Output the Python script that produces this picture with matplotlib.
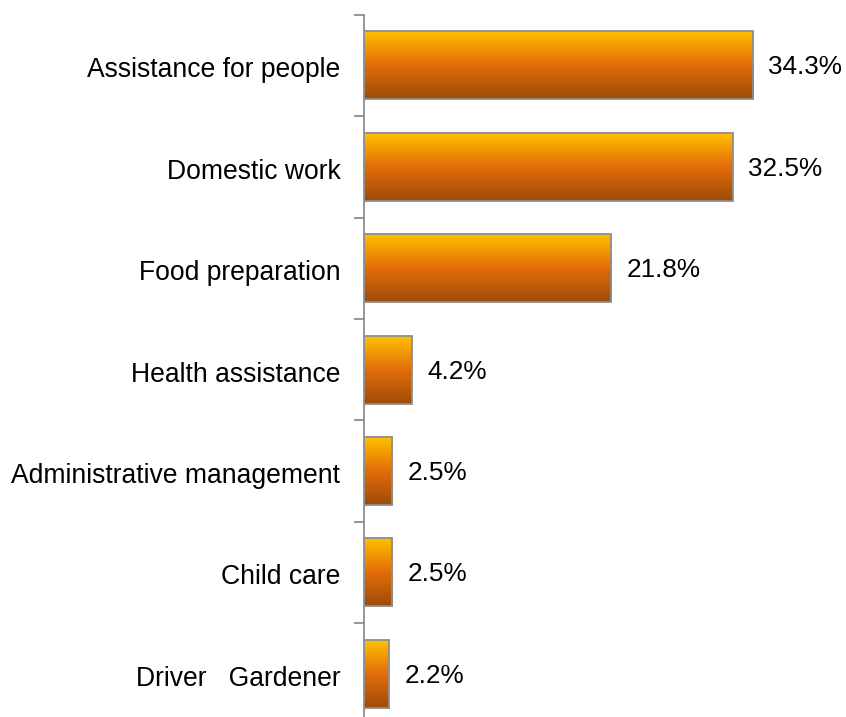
import numpy as np
import matplotlib
matplotlib.use("Agg")
import matplotlib.pyplot as plt
from matplotlib.colors import LinearSegmentedColormap
from matplotlib.ticker import FixedLocator, NullFormatter, FixedFormatter

categories = ["Assistance for people", "Domestic work", "Food preparation",
              "Health assistance", "Administrative management", "Child care",
              "Driver   Gardener"]
shares = [34.3, 32.5, 21.8, 4.2, 2.5, 2.5, 2.2]

W, H, DPI = 846, 717, 100
fig = plt.figure(figsize=(W / DPI, H / DPI), dpi=DPI)
fig.patch.set_facecolor("white")

left_px, top_px, step_px = 364, 14.7, 101.4
n = len(categories)
ax_h_px = step_px * n
ax = fig.add_axes([left_px / W, 1 - (top_px + ax_h_px) / H,
                   (W - left_px) / W, ax_h_px / H])

grad = LinearSegmentedColormap.from_list(
    "bar_grad", [(0.0, "#ffc000"), (0.5, "#e36c0a"), (1.0, "#9c4c08")])
ramp = np.linspace(0, 1, 256).reshape(-1, 1)

FS = 18.8
bar_h = 0.67
for i, v in enumerate(shares):
    y0 = i + (1 - bar_h) / 2
    ax.imshow(ramp, cmap=grad, aspect="auto", interpolation="bilinear",
              extent=(0, v, y0 + bar_h, y0), zorder=2)
    ax.add_patch(plt.Rectangle((0, y0), v, bar_h, facecolor="none",
                               edgecolor="#8e8e8e", linewidth=1.3, zorder=3))
    ax.text(v + 1.35, i + 0.52, f"{v:.1f}%", ha="left", va="center",
            fontsize=FS, family="Liberation Sans", color="black")

ax.set_xlim(0, 42.5)
ax.set_ylim(n, 0)

for s in ["top", "right", "bottom"]:
    ax.spines[s].set_visible(False)
ax.spines["left"].set_color("#8e8e8e")
ax.spines["left"].set_linewidth(1.3)
ax.set_xticks([])

ax.yaxis.set_major_locator(FixedLocator(np.arange(0, n + 1)))
ax.yaxis.set_major_formatter(NullFormatter())
ax.yaxis.set_minor_locator(FixedLocator(np.arange(n) + 0.52))
ax.yaxis.set_minor_formatter(FixedFormatter(categories))
ax.tick_params(axis="y", which="major", length=7, width=1.3, color="#8e8e8e")
ax.tick_params(axis="y", which="minor", length=0, pad=17)
for lbl in ax.get_yticklabels(minor=True):
    lbl.set_fontsize(19.1)
    lbl.set_family("Liberation Sans")

fig.savefig("out.png", dpi=DPI)
